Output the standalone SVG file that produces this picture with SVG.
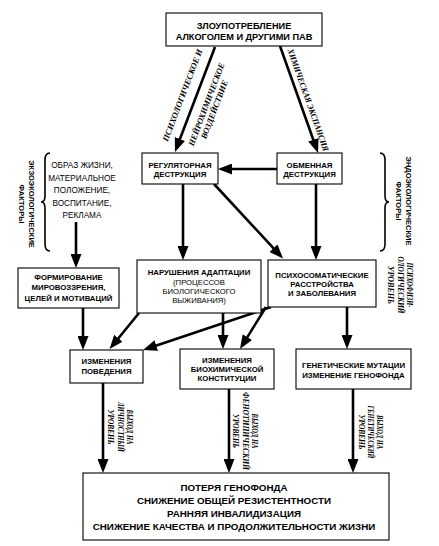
<svg xmlns="http://www.w3.org/2000/svg" width="439" height="546" viewBox="0 0 439 546">
<defs>
<marker id="ah" markerWidth="14" markerHeight="11" refX="10" refY="5.5" orient="auto" markerUnits="userSpaceOnUse"><path d="M0,0 L14,5.5 L0,11 z" fill="#000"/></marker>
<style>
.box{fill:#fff;stroke:#000;stroke-width:1.1}
.c{stroke:#000;stroke-width:2.6;fill:none;marker-end:url(#ah)}
.br{stroke:#000;stroke-width:1.6;fill:none}
text{font-family:"Liberation Sans",Arial,sans-serif;text-anchor:middle;fill:#000}
.b{font-weight:bold;font-size:7.8px}
.r{font-size:7.7px}
.rx{font-size:8.2px}
.big{font-weight:bold;font-size:9.2px}
.bot{font-weight:bold;font-size:9.8px}
.f{font-weight:bold;font-size:7.5px}
.it{font-family:"Liberation Serif","Times New Roman",serif;font-style:italic;font-weight:bold;font-size:8.5px}
</style>
</defs>
<rect width="439" height="546" fill="#fff"/>
<g id="connectors">
<line class="c" x1="215" y1="47" x2="176.4" y2="148.3"/>
<line class="c" x1="280" y1="46" x2="316.7" y2="149.2"/>
<line class="c" x1="277" y1="169" x2="222" y2="169"/>
<line class="c" x1="183" y1="184" x2="183" y2="256"/>
<line class="c" x1="214" y1="184" x2="280.3" y2="255.6"/>
<line class="c" x1="316" y1="184" x2="316" y2="256"/>
<line class="c" x1="76" y1="222" x2="76" y2="264"/>
<line class="c" x1="83" y1="308" x2="83" y2="346"/>
<line class="c" x1="139" y1="313" x2="112.1" y2="346"/>
<line class="c" x1="271" y1="307" x2="146.8" y2="348.7"/>
<line class="c" x1="266" y1="307" x2="242.1" y2="345.6"/>
<line class="c" x1="223" y1="313" x2="223" y2="345"/>
<line class="c" x1="347" y1="307" x2="347" y2="345"/>
<line class="c" x1="103" y1="383" x2="103" y2="469"/>
<line class="c" x1="229" y1="389" x2="229" y2="469"/>
<line class="c" x1="353" y1="389" x2="353" y2="469"/>
</g>
<g id="arrow-labels">
<g transform="translate(195.4,98) rotate(-69.15)">
<text class="it" x="-2" y="-10.2" textLength="98" lengthAdjust="spacingAndGlyphs">ПСИХОЛОГИЧЕСКОЕ И</text>
<text class="it" x="-2" y="15.4" textLength="88" lengthAdjust="spacingAndGlyphs">НЕЙРОХИМИЧЕСКОЕ</text>
<text class="it" x="-4" y="24.6" textLength="62" lengthAdjust="spacingAndGlyphs">ВОЗДЕЙСТВИЕ</text>
</g>
<g transform="translate(299.2,100) rotate(70.45)">
<text class="it" x="3" y="-5.7" textLength="108" lengthAdjust="spacingAndGlyphs">ХИМИЧЕСКАЯ ЭКСПАНСИЯ</text>
</g>
<g transform="translate(127,427) rotate(90)">
<text class="it" y="0" textLength="35" lengthAdjust="spacingAndGlyphs">ВЫХОД НА</text>
<text class="it" y="9.5" textLength="50" lengthAdjust="spacingAndGlyphs">ЛИЧНОСТНЫЙ</text>
<text class="it" y="19" textLength="35" lengthAdjust="spacingAndGlyphs">УРОВЕНЬ</text>
</g>
<g transform="translate(252,431) rotate(90)">
<text class="it" y="0" textLength="35" lengthAdjust="spacingAndGlyphs">ВЫХОД НА</text>
<text class="it" y="9.5" textLength="78" lengthAdjust="spacingAndGlyphs">ФЕНОТИПИЧЕСКИЙ</text>
<text class="it" y="19" textLength="34" lengthAdjust="spacingAndGlyphs">УРОВЕНЬ</text>
</g>
<g transform="translate(377,432) rotate(90)">
<text class="it" y="0" textLength="34" lengthAdjust="spacingAndGlyphs">ВЫХОД НА</text>
<text class="it" y="9.5" textLength="53" lengthAdjust="spacingAndGlyphs">ГЕНЕТИЧЕСКИЙ</text>
<text class="it" y="18.5" textLength="35" lengthAdjust="spacingAndGlyphs">УРОВЕНЬ</text>
</g>
<g transform="translate(407,285) rotate(90)">
<text class="it" y="0" textLength="45" lengthAdjust="spacingAndGlyphs">ПСИХОФИЗИ-</text>
<text class="it" y="9.5" textLength="57" lengthAdjust="spacingAndGlyphs">ОЛОГИЧЕСКИЙ</text>
<text class="it" y="19" textLength="38" lengthAdjust="spacingAndGlyphs">УРОВЕНЬ</text>
</g>
</g>
<g id="exo-factors">
<path class="br" d="M50,153 Q45,153 45,160 L45,196 Q45,202 41,202 Q45,202 45,208 L45,244 Q45,251 50,251"/>
<g transform="translate(29,204) rotate(90)">
<text class="f" y="0">ЭКЗОЭКОЛОГИЧЕСКИЕ</text>
<text class="f" y="10">ФАКТОРЫ</text>
</g>
<text class="rx" x="82" y="168">ОБРАЗ ЖИЗНИ,</text>
<text class="rx" x="82" y="180.5">МАТЕРИАЛЬНОЕ</text>
<text class="rx" x="82" y="193">ПОЛОЖЕНИЕ,</text>
<text class="rx" x="82" y="205.5">ВОСПИТАНИЕ,</text>
<text class="rx" x="82" y="218">РЕКЛАМА</text>
</g>
<g id="endo-factors">
<path class="br" d="M380,153 Q385,153 385,160 L385,196 Q385,202 389,202 Q385,202 385,208 L385,244 Q385,251 380,251"/>
<g transform="translate(405.5,201) rotate(90)">
<text class="f" y="0">ЭНДОЭКОЛОГИЧЕСКИЕ</text>
<text class="f" y="10">ФАКТОРЫ</text>
</g>
</g>
<g id="abuse">
<rect class="box" x="166" y="13" width="156" height="33"/>
<text class="big" x="244" y="28.5">ЗЛОУПОТРЕБЛЕНИЕ</text>
<text class="big" x="244" y="39.5">АЛКОГОЛЕМ И ДРУГИМИ ПАВ</text>
</g>
<g id="regulatory">
<rect class="box" x="142" y="153" width="76" height="31"/>
<text class="b" x="180" y="168">РЕГУЛЯТОРНАЯ</text>
<text class="b" x="180" y="177">ДЕСТРУКЦИЯ</text>
</g>
<g id="metabolic">
<rect class="box" x="277" y="153" width="65" height="31"/>
<text class="b" x="309.5" y="168">ОБМЕННАЯ</text>
<text class="b" x="309.5" y="177">ДЕСТРУКЦИЯ</text>
</g>
<g id="formation">
<rect class="box" x="18" y="268" width="101" height="40"/>
<text class="b" x="68.5" y="280">ФОРМИРОВАНИЕ</text>
<text class="b" x="68.5" y="290">МИРОВОЗЗРЕНИЯ,</text>
<text class="b" x="68.5" y="300.5">ЦЕЛЕЙ И МОТИВАЦИЙ</text>
</g>
<g id="adaptation">
<rect class="box" x="137" y="260" width="124" height="53"/>
<text class="b" x="199" y="275">НАРУШЕНИЯ АДАПТАЦИИ</text>
<text class="r" x="199" y="285">(ПРОЦЕССОВ</text>
<text class="r" x="199" y="294">БИОЛОГИЧЕСКОГО</text>
<text class="r" x="199" y="303">ВЫЖИВАНИЯ)</text>
</g>
<g id="psychosomatic">
<rect class="box" x="268" y="260" width="108" height="47"/>
<text class="b" x="322" y="277.5">ПСИХОСОМАТИЧЕСКИЕ</text>
<text class="b" x="322" y="287">РАССТРОЙСТВА</text>
<text class="b" x="322" y="296">И ЗАБОЛЕВАНИЯ</text>
</g>
<g id="behaviour">
<rect class="box" x="70" y="350" width="73" height="33"/>
<text class="b" x="106.5" y="364">ИЗМЕНЕНИЯ</text>
<text class="b" x="106.5" y="374">ПОВЕДЕНИЯ</text>
</g>
<g id="biochemical">
<rect class="box" x="180" y="349" width="94" height="40"/>
<text class="b" x="227" y="363">ИЗМЕНЕНИЯ</text>
<text class="b" x="227" y="372">БИОХИМИЧЕСКОЙ</text>
<text class="b" x="227" y="381">КОНСТИТУЦИИ</text>
</g>
<g id="genetic">
<rect class="box" x="296" y="349" width="115" height="40"/>
<text class="b" x="353.5" y="368">ГЕНЕТИЧЕСКИЕ МУТАЦИИ</text>
<text class="b" x="353.5" y="378">ИЗМЕНЕНИЕ ГЕНОФОНДА</text>
</g>
<g id="outcome">
<rect class="box" x="83" y="473" width="306" height="67"/>
<text class="bot" x="234" y="491">ПОТЕРЯ ГЕНОФОНДА</text>
<text class="bot" x="234" y="504">СНИЖЕНИЕ ОБЩЕЙ РЕЗИСТЕНТНОСТИ</text>
<text class="bot" x="234" y="517">РАННЯЯ ИНВАЛИДИЗАЦИЯ</text>
<text class="bot" x="234" y="530">СНИЖЕНИЕ КАЧЕСТВА И ПРОДОЛЖИТЕЛЬНОСТИ ЖИЗНИ</text>
</g>
</svg>
